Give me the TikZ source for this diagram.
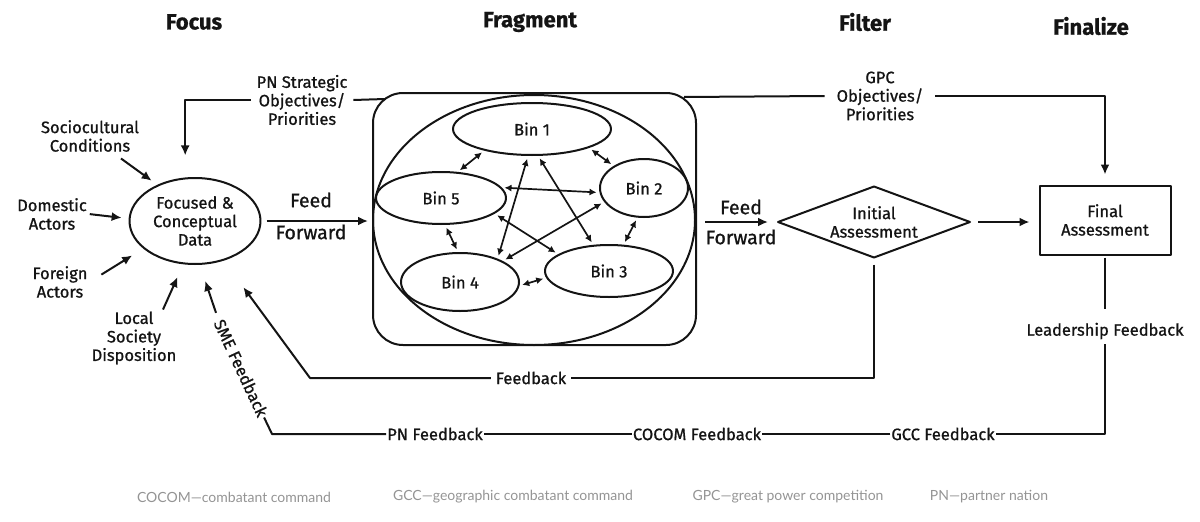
\documentclass[tikz,border=0pt]{standalone}
\usepackage{fontspec}
\setmainfont{Fira Sans}[FakeBold=0.9]
\newfontfamily\notefont{Lato}
\usetikzlibrary{arrows.meta,shapes.geometric}
\definecolor{LoopInk}{gray}{0.08}
\definecolor{LoopNote}{gray}{0.58}
\tikzset{
    loop/diagram/.style={
        x=1pt, y=-1pt,
        draw=LoopInk,
        text=LoopInk,
        line width=2pt,
        line join=round,
        every node/.style={inner sep=2pt, outer sep=0pt}
    },
    loop/header/.style={font=\bfseries\fontsize{22}{25}\selectfont},
    loop/text/.style={align=center, font=\fontsize{16.5}{18.5}\selectfont},
    loop/feed/.style={font=\fontsize{19.5}{22}\selectfont},
    loop/online/.style={loop/text, inner xsep=5pt, fill=white},
    loop/flow/.style={draw=LoopInk, line width=2pt},
    loop/arrow/.style={
        draw=LoopInk, line width=2pt,
        -{Latex[length=10pt, width=9pt]}
    },
    loop/swap/.style={
        draw=LoopInk, line width=1.7pt,
        shorten <=4pt, shorten >=4pt,
        {Latex[length=7pt, width=7pt]}-{Latex[length=7pt, width=7pt]}
    },
    loop/bin/.style={
        ellipse, draw=LoopInk, line width=2pt, inner sep=0pt,
        loop/text
    },
    loop/note/.style={font=\notefont\fontsize{14}{16}\selectfont, text=LoopNote}
}
\begin{document}
\begin{tikzpicture}[loop/diagram]
    \useasboundingbox (0,0) rectangle (1200,522);
    % stage headers
    \node[loop/header] (hfocus) at (194,22) {Focus};
    \node[loop/header] (hfrag) at (530,22) {Fragment};
    \node[loop/header] (hfilter) at (865,22) {Filter};
    \node[loop/header] (hfinal) at (1091,26) {Finalize};

    % focus stage
    \node[loop/bin, minimum width=131, minimum height=86] (focus) at (195,221)
        {Focused \&\\Conceptual\\Data};
    \node[loop/text] (socio) at (90,136) {Sociocultural\\Conditions};
    \node[loop/text] (dom) at (52,214) {Domestic\\Actors};
    \node[loop/text] (foreign) at (60,282) {Foreign\\Actors};
    \node[loop/text] (local) at (134,338) {Local\\Society\\Disposition};
    \node[loop/text, rotate=-65] (sme) at (241,368) {SME Feedback};
    \node[loop/text, inner xsep=6pt] (pnobj) at (302,100) {PN Strategic\\Objectives/\\Priorities};

    \draw[loop/arrow, shorten <=8pt, shorten >=8pt] (socio) -- (focus.136);
    \draw[loop/arrow, shorten <=1pt, shorten >=8pt] (dom.east) -- (focus.178);
    \draw[loop/arrow, shorten <=14pt, shorten >=14pt] (foreign.east) -- (focus.208);
    \draw[loop/arrow, shorten >=15pt] ([xshift=29pt]local.north) -- (focus.255);
    \draw[loop/arrow, shorten <=6pt, shorten >=18pt] (sme.west) -- (focus.276);

    % fragment stage
    \node[draw=LoopInk, rounded corners=30pt, minimum width=323, minimum height=252,
        line width=2pt] (frag) at (534.5,219) {};
    \node[loop/bin, minimum width=322, minimum height=250] (cloud) at (534,220) {};
    \node[loop/bin, minimum width=158, minimum height=52] (b1) at (532,129) {Bin 1};
    \node[loop/bin, minimum width=88, minimum height=58] (b2) at (644,188) {Bin 2};
    \node[loop/bin, minimum width=128, minimum height=52] (b3) at (609,271) {Bin 3};
    \node[loop/bin, minimum width=118, minimum height=58] (b4) at (460,282) {Bin 4};
    \node[loop/bin, minimum width=130, minimum height=52] (b5) at (441,198) {Bin 5};
    \draw[loop/swap] (b5.58) -- (b1.204);
    \draw[loop/swap] (b1.342) -- (b2.144);
    \draw[loop/swap] (b2.258) -- (b3.61);
    \draw[loop/swap] (b3.186) -- (b4.356);
    \draw[loop/swap] (b4.93) -- (b5.278);
    \draw[loop/swap] (b5.10) -- (b2.186);
    \draw[loop/swap] (b5.344) -- (b3.162);
    \draw[loop/swap] (b1.262) -- (b4.31);
    \draw[loop/swap] (b1.282) -- (b3.121);
    \draw[loop/swap] (b2.199) -- (b4.26);

    \node[loop/feed] (ffa) at (311,200) {Feed};
    \node[loop/feed] (ffb) at (311,232) {Forward};
    \draw[loop/arrow, shorten <=6pt, shorten >=5pt] (focus.east) -- (focus.east -| frag.west);

    % filter and finalize stages
    \node[diamond, draw=LoopInk, line width=2pt, aspect=2.7, inner sep=0pt,
        minimum width=192, minimum height=71, loop/text] (init) at (874,222)
        {Initial\\Assessment};
    \node[draw=LoopInk, line width=2pt, minimum width=131, minimum height=69,
        loop/text] (final) at (1105,220) {Final\\Assessment};
    \node[loop/feed] (ffc) at (741,207) {Feed};
    \node[loop/feed] (ffd) at (741,237) {Forward};
    \draw[loop/arrow, shorten <=9pt, shorten >=10pt] (init.west -| frag.east) -- (init.west);
    \draw[loop/arrow, shorten <=8pt, shorten >=10pt] (init.east) -- (init.east -| final.west);

    \node[loop/text, inner xsep=12pt] (gpc) at (880,96) {GPC\\Objectives/\\Priorities};
    \coordinate (topL) at (385,99);
    \coordinate (topR) at (684,97);
    \draw[loop/flow] (topL) -- (pnobj.east);
    \draw[loop/arrow, shorten >=23pt] (pnobj.west) -| (focus.103);
    \draw[loop/flow] (topR) -- (gpc.west);
    \draw[loop/arrow, shorten >=11pt] (gpc.east) -| (final.north);

    % feedback loops
    \node[loop/online] (fb) at (531,378) {Feedback};
    \coordinate (fbcorner) at (310,378);
    \draw[loop/flow, shorten <=7pt] (init.south) |- (fb.east);
    \draw[loop/arrow, shorten >=34pt] (fb.west) -- (fbcorner) -- (focus.306);

    \node[loop/text] (lead) at (1105,331) {Leadership Feedback};
    \node[loop/online, inner xsep=1pt] (gccfb) at (943,434) {GCC Feedback};
    \node[loop/online, inner xsep=1pt] (cocomfb) at (697,434) {COCOM Feedback};
    \node[loop/online, inner xsep=1pt] (pnfb) at (435,434) {PN Feedback};
    \coordinate (smecorner) at (272,434);
    \draw[loop/flow, shorten <=3pt, shorten >=12pt] (final.south) -- (lead.north);
    \draw[loop/flow, shorten <=3pt] (lead.south) |- (gccfb.east);
    \draw[loop/flow] (gccfb.west) -- (cocomfb.east);
    \draw[loop/flow] (cocomfb.west) -- (pnfb.east);
    \draw[loop/flow] (pnfb.west) -- (smecorner) -- (sme.east);

    % legend
    \node[loop/note] (ncocom) at (234,497) {COCOM—combatant command};
    \node[loop/note] (ngcc) at (513,497) {GCC—geographic combatant command};
    \node[loop/note] (ngpc) at (788,497) {GPC—great power competition};
    \node[loop/note] (npn) at (989,497) {PN—partner nation};
\end{tikzpicture}
\end{document}
